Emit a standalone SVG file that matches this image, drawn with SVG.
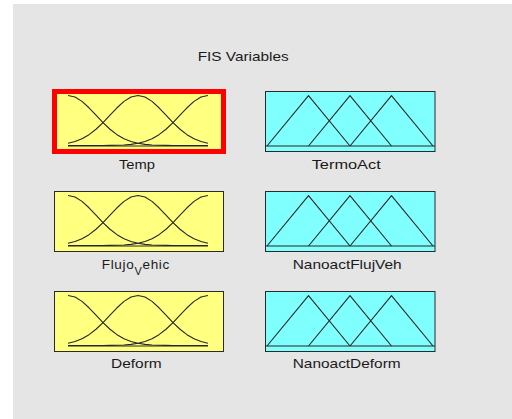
<svg xmlns="http://www.w3.org/2000/svg" xmlns:xlink="http://www.w3.org/1999/xlink" width="512" height="419" viewBox="0 0 512 419">
<style>
.lbl{font-family:"Liberation Sans",Arial,sans-serif;font-size:13.5px;fill:#1a1a1a}
.ybox{fill:#ffff80;stroke:#2a2a2a;stroke-width:1}
.cbox{fill:#80ffff;stroke:#2a2a2a;stroke-width:1}
.mf{fill:none;stroke:#262626;stroke-width:1.1;stroke-linejoin:round}
</style>
<defs>
<path id="gauss" class="mf" d="M-140,50 L-112,50 L-105,49.95 L-98,49.89 L-91,49.75 L-84,49.44 L-77,48.86 L-70,47.8 L-63,46.02 L-56,43.23 L-49,39.18 L-42,33.77 L-35,27.11 L-28,19.67 L-21,12.26 L-14,5.88 L-7,1.54 L0,0 L7,1.54 L14,5.88 L21,12.26 L28,19.67 L35,27.11 L42,33.77 L49,39.18 L56,43.23 L63,46.02 L70,47.8 L77,48.86 L84,49.44 L91,49.75 L98,49.89 L105,49.95 L112,50 L140,50"/>
<clipPath id="gclip" clipPathUnits="userSpaceOnUse"><rect x="0" y="-3" width="140" height="56"/></clipPath>
<g id="gset">
<g clip-path="url(#gclip)">
<use xlink:href="#gauss"/>
<use xlink:href="#gauss" x="70"/>
<use xlink:href="#gauss" x="140"/>
</g>
<line class="mf" x1="0" y1="50.5" x2="140" y2="50.5"/>
</g>
<g id="tset">
<path class="mf" d="M0,50.3 L41.5,0 L83,50.3 M41.5,50.3 L83,0 L124.5,50.3 M83,50.3 L124.5,0 L166,50.3"/>
</g>
</defs>
<rect x="0" y="0" width="512" height="419" fill="#ffffff"/>
<rect x="13" y="4" width="499" height="415" fill="#e5e5e5"/>
<text class="lbl" x="197.7" y="61" textLength="91" lengthAdjust="spacingAndGlyphs">FIS Variables</text>

<g id="temp">
<rect class="ybox" x="54.5" y="91.5" width="169" height="60" stroke="none"/>
<use xlink:href="#gset" transform="translate(68,95.5)"/>
<rect x="54.5" y="91.5" width="169" height="60" fill="none" stroke="#ff0000" stroke-width="5"/>
<text class="lbl" x="119" y="169" textLength="36" lengthAdjust="spacingAndGlyphs">Temp</text>
</g>

<g id="termoact">
<rect class="cbox" x="265.5" y="91.5" width="169.5" height="60"/>
<line class="mf" x1="265.5" y1="146" x2="435" y2="146"/>
<use xlink:href="#tset" transform="translate(267,95.7)"/>
<text class="lbl" x="311.7" y="169" textLength="69" lengthAdjust="spacingAndGlyphs">TermoAct</text>
</g>

<g id="flujovehic">
<rect class="ybox" x="54.5" y="191.5" width="169" height="60"/>
<use xlink:href="#gset" transform="translate(68,195.5)"/>
<text class="lbl" x="101.7" y="269" textLength="67.6" lengthAdjust="spacing">Flujo<tspan dy="6" style="font-size:11px">V</tspan><tspan dy="-6">ehic</tspan></text>
</g>

<g id="nanoactflujveh">
<rect class="cbox" x="265.5" y="191.5" width="169.5" height="60"/>
<line class="mf" x1="265.5" y1="246" x2="435" y2="246"/>
<use xlink:href="#tset" transform="translate(267,195.7)"/>
<text class="lbl" x="292.7" y="269" textLength="109" lengthAdjust="spacingAndGlyphs">NanoactFlujVeh</text>
</g>

<g id="deform">
<rect class="ybox" x="54.5" y="291.5" width="169" height="60"/>
<use xlink:href="#gset" transform="translate(68,295.5)"/>
<text class="lbl" x="111" y="368" textLength="50.7" lengthAdjust="spacingAndGlyphs">Deform</text>
</g>

<g id="nanoactdeform">
<rect class="cbox" x="265.5" y="291.5" width="169.5" height="60"/>
<line class="mf" x1="265.5" y1="346" x2="435" y2="346"/>
<use xlink:href="#tset" transform="translate(267,295.7)"/>
<text class="lbl" x="292.7" y="368" textLength="108" lengthAdjust="spacingAndGlyphs">NanoactDeform</text>
</g>
</svg>
